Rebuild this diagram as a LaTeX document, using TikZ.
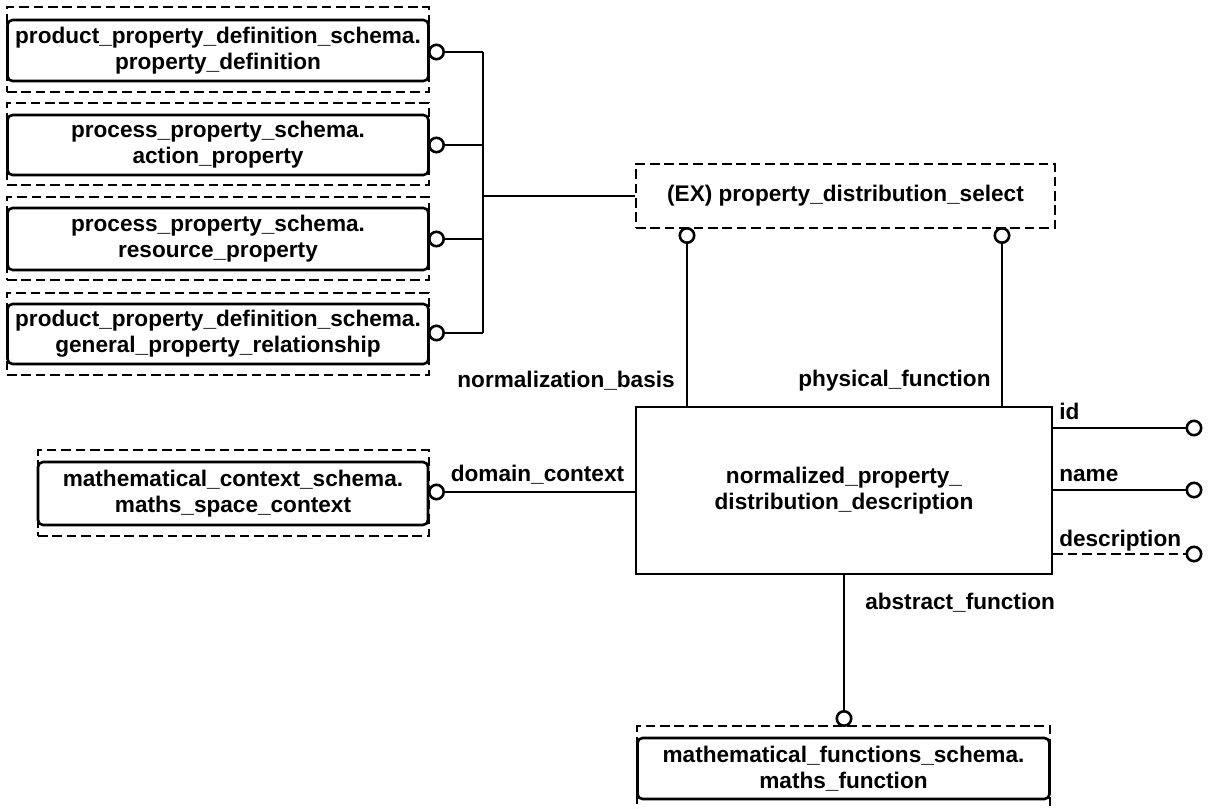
\documentclass[tikz,border=0pt]{standalone}
\usepackage{fontspec}
\setmainfont{Liberation Sans}

\tikzset{
  ent/.style={rectangle, draw, align=center, inner sep=0pt},
  refbox/.style={rectangle, draw, rounded corners=2.5pt, fill=white, align=center, inner sep=0pt},
  frame/.style={rectangle, draw, dash pattern=on 4.8pt off 2.4pt, inner sep=0pt},
  ring/.style={circle, draw, fill=white, inner sep=0pt, minimum size=7.2pt},
  lbl/.style={inner sep=0pt}
}

\begin{document}
\begin{tikzpicture}[x=0.5pt, y=-0.5pt, line width=1.3pt, font=\fontsize{11.3}{13}\selectfont\bfseries]
  \useasboundingbox (0,0) rectangle (1211,809);

  % referenced entities on the left
  \node[frame, minimum width=211pt, minimum height=42.5pt] (PDf) at (218,49.5) {};
  \node[refbox, minimum width=210.5pt, minimum height=30.5pt] (PD) at (218,50.5) {product\_property\_definition\_schema.\\property\_definition};
  \node[frame, minimum width=211pt, minimum height=41pt] (APf) at (218,144) {};
  \node[refbox, minimum width=210.5pt, minimum height=30pt] (AP) at (218,145) {process\_property\_schema.\\action\_property};
  \node[frame, minimum width=211pt, minimum height=41.5pt] (RPf) at (218,238.5) {};
  \node[refbox, minimum width=210.5pt, minimum height=31pt] (RP) at (218,239) {process\_property\_schema.\\resource\_property};
  \node[frame, minimum width=211pt, minimum height=41pt] (GPf) at (218,334) {};
  \node[refbox, minimum width=210.5pt, minimum height=30pt] (GP) at (218,334) {product\_property\_definition\_schema.\\general\_property\_relationship};

  \node[ring] (r1) at (436.5,52) {};
  \node[ring] (r2) at (436.5,145) {};
  \node[ring] (r3) at (436.5,239) {};
  \node[ring] (r4) at (436.5,333) {};
  \coordinate (bus) at (483,196);

  % select type
  \node[frame, minimum width=209.5pt, minimum height=32pt] (SEL) at (845.5,196) {(EX) property\_distribution\_select};
  \node[ring] (s1) at (687,235.5) {};
  \node[ring] (s2) at (1002,235.5) {};

  % main entity
  \node[ent, minimum width=208pt, minimum height=83.5pt] (NPD) at (844,490.5) {normalized\_property\_\\distribution\_description};

  % maths space context
  \node[frame, minimum width=195.5pt, minimum height=43pt] (MSCf) at (233.5,493) {};
  \node[refbox, minimum width=195pt, minimum height=31.5pt] (MSC) at (233,493.5) {mathematical\_context\_schema.\\maths\_space\_context};
  \node[ring] (r5) at (436.5,492) {};

  % maths function
  \node[frame, minimum width=206.5pt, minimum height=42.5pt] (MFf) at (843.5,768.5) {};
  \node[refbox, minimum width=206pt, minimum height=30.5pt] (MF) at (843.5,768.5) {mathematical\_functions\_schema.\\maths\_function};
  \node[ring] (r6) at (844,718.5) {};

  % attributes
  \node[ring] (a1) at (1194,428) {};
  \node[ring] (a2) at (1194,490) {};
  \node[ring] (a3) at (1194,554) {};

  % connectors
  \draw (r1) -- (r1 -| bus);
  \draw (r2) -- (r2 -| bus);
  \draw (r3) -- (r3 -| bus);
  \draw (r4) -- (r4 -| bus);
  \draw (r1 -| bus) -- (r4 -| bus);
  \draw (bus) -- (SEL.west);
  \draw (s1) -- (s1 |- NPD.north);
  \draw (s2) -- (s2 |- NPD.north);
  \draw (r5) -- (r5 -| NPD.west);
  \draw (NPD.south) -- (r6);
  \draw (a1 -| NPD.east) -- (a1);
  \draw (a2 -| NPD.east) -- (a2);
  \draw[dash pattern=on 4.8pt off 2.4pt] (a3 -| NPD.east) -- (a3);

  % role labels
  \node[lbl, anchor=east] (nb) at (676,381) {normalization\_basis};
  \node[lbl] (pf) at (894.5,381) {physical\_function};
  \node[lbl] (dc) at (537.5,475) {domain\_context};
  \node[lbl, anchor=west] (af) at (864,603) {abstract\_function};
  \node[lbl, anchor=west] (lid) at (1058,411) {id};
  \node[lbl, anchor=west] (lnm) at (1058,476) {name};
  \node[lbl, anchor=west] (lds) at (1058,541) {description};
\end{tikzpicture}
\end{document}
